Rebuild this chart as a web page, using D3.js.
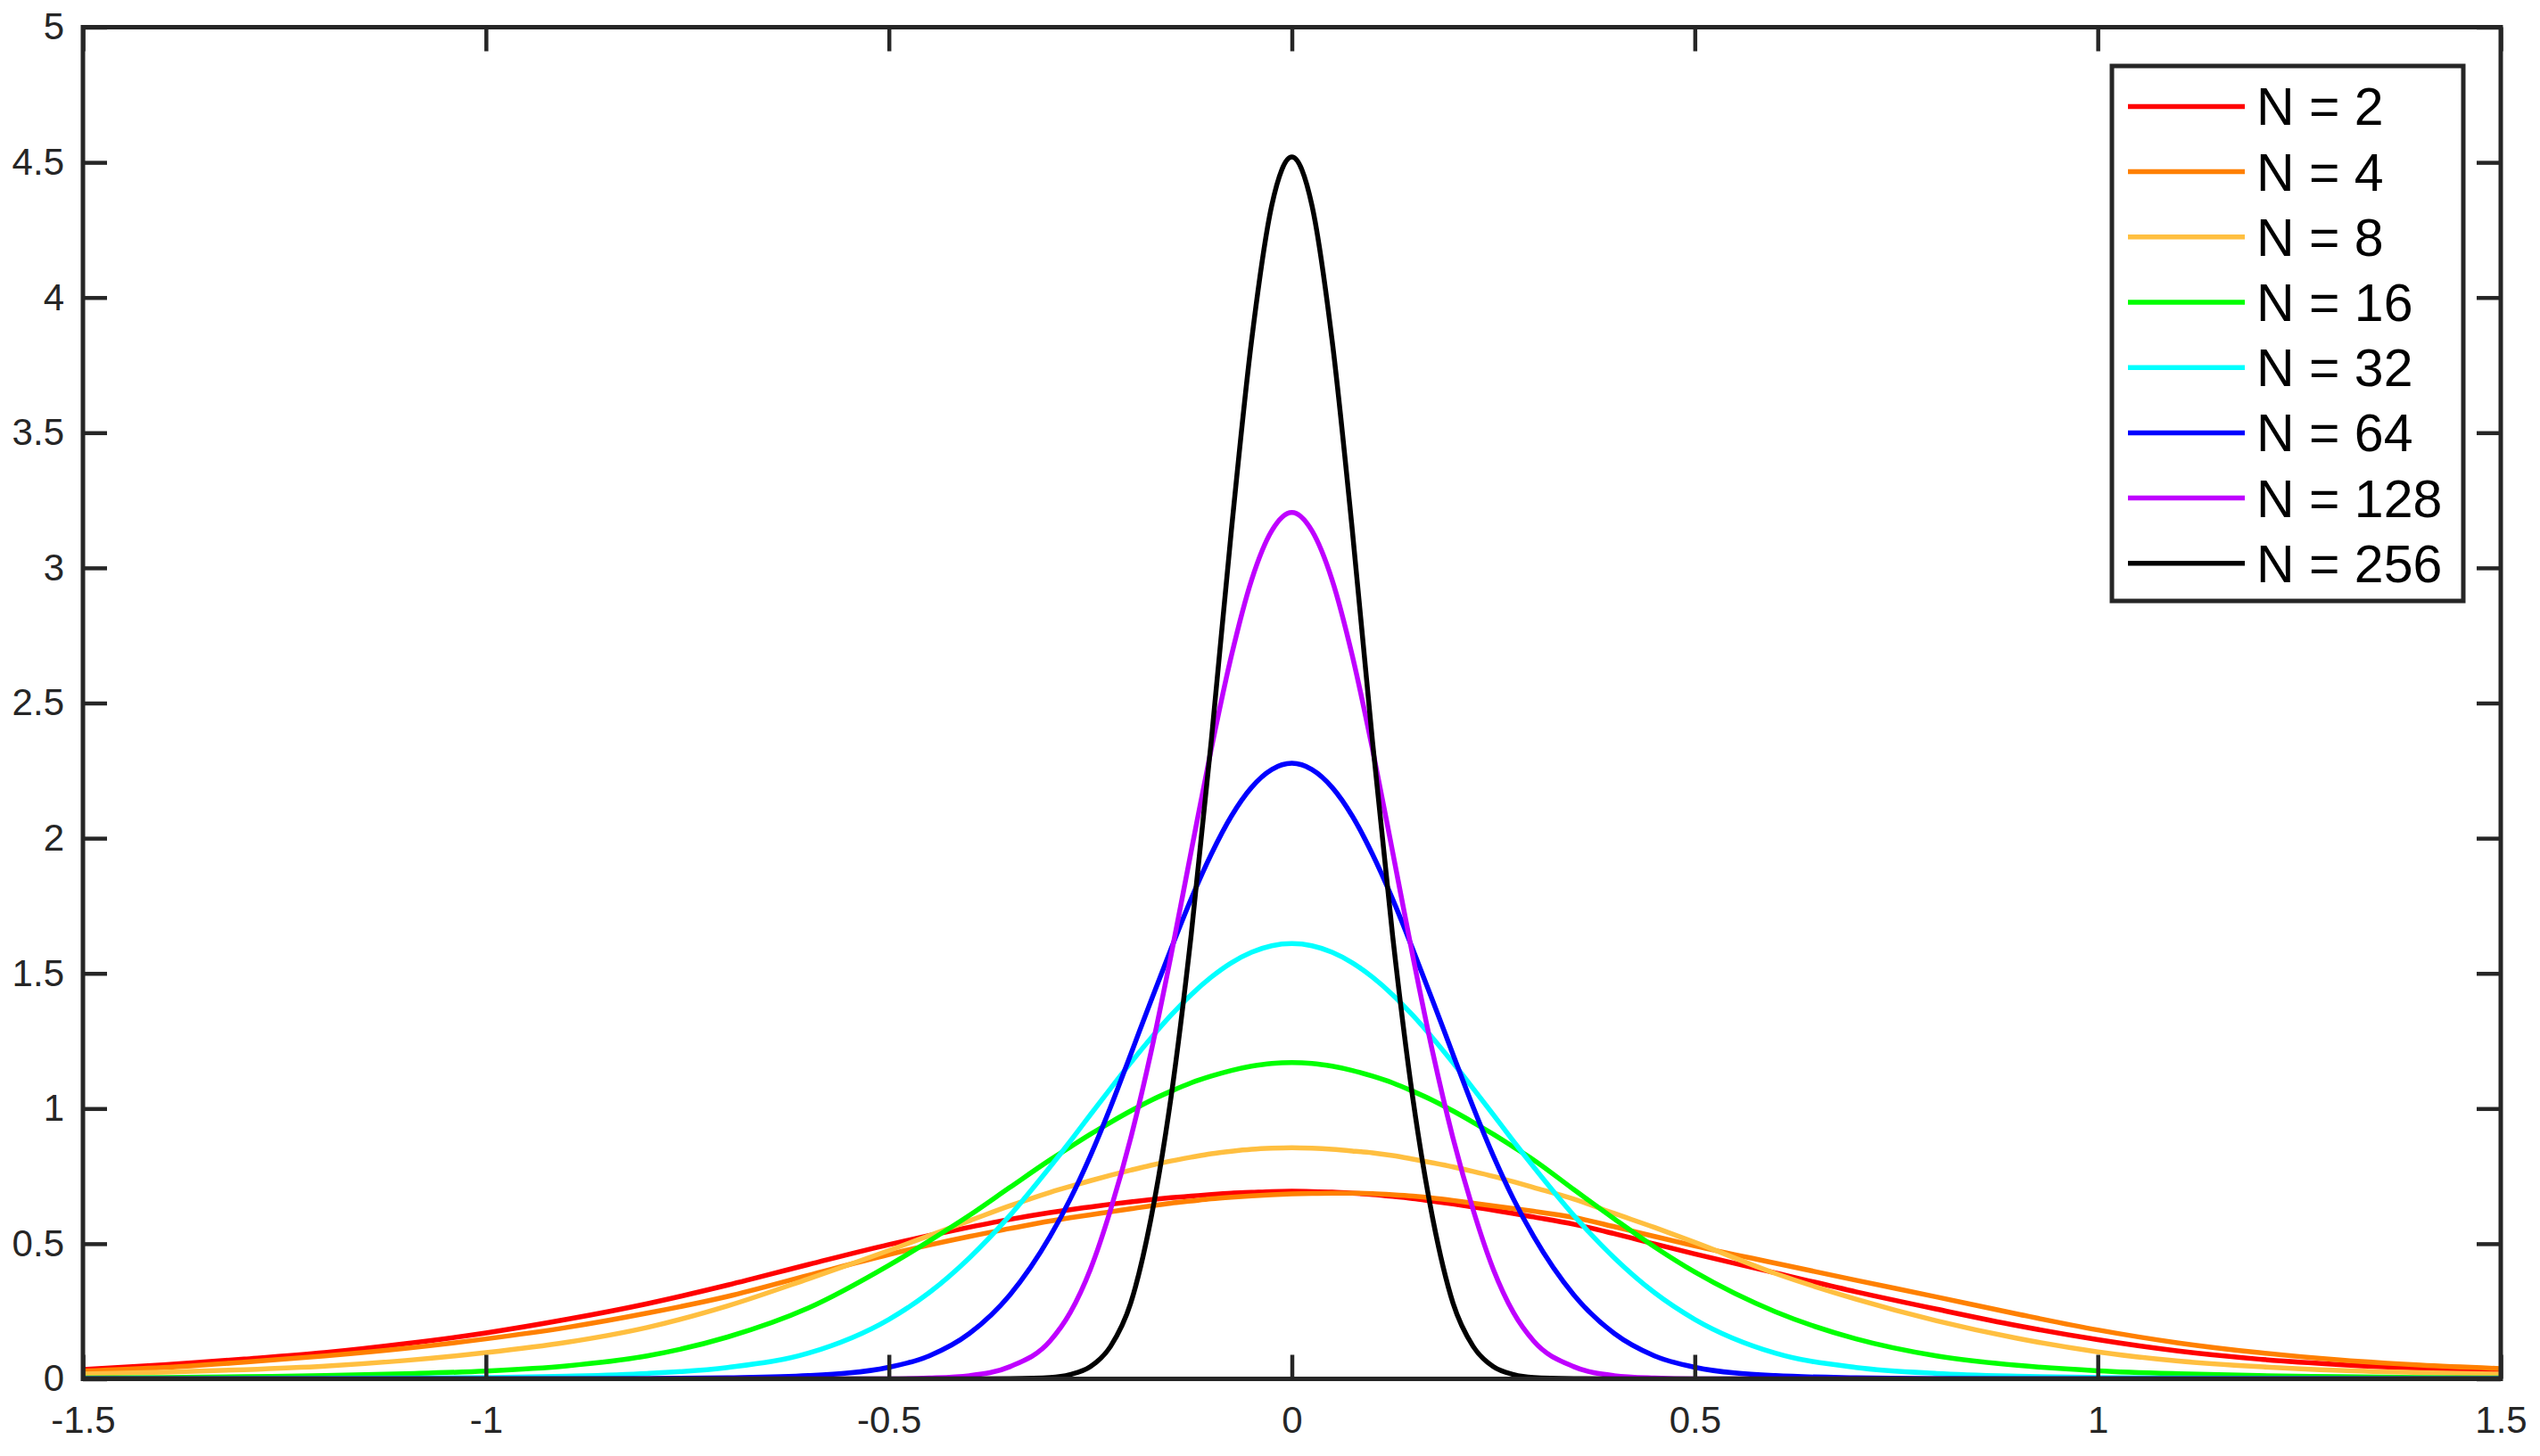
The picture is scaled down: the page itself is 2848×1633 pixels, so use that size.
<!DOCTYPE html>
<html>
<head>
<meta charset="utf-8">
<script src="https://cdn.jsdelivr.net/npm/d3@7"></script>
<style>
  html, body { margin: 0; padding: 0; background: #ffffff; }
  svg { display: block; }
</style>
</head>
<body>
<svg id="chart" width="2848" height="1633"></svg>
<script>
// ---------------- data ----------------
const xs = [-1.5,-1.4,-1.3,-1.2,-1.1,-1.0,-0.9,-0.8,-0.7,-0.6,-0.5,-0.45,-0.4,-0.35,-0.3,-0.275,-0.25,-0.225,-0.2,-0.175,-0.15,-0.125,-0.1,-0.075,-0.05,-0.025,0,0.025,0.05,0.075,0.1,0.125,0.15,0.175,0.2,0.225,0.25,0.275,0.3,0.35,0.4,0.45,0.5,0.6,0.7,0.8,0.9,1.0,1.1,1.2,1.3,1.4,1.5];

const yN2 = [0.035,0.052,0.073,0.097,0.130,0.170,0.220,0.278,0.347,0.423,0.497,0.530,0.561,0.590,0.615,0.626,0.636,0.646,0.655,0.663,0.670,0.676,0.682,0.687,0.690,0.693,0.694,0.693,0.691,0.687,0.682,0.675,0.667,0.657,0.647,0.636,0.624,0.612,0.599,0.572,0.537,0.499,0.462,0.392,0.322,0.258,0.197,0.145,0.103,0.073,0.053,0.039,0.030];
const yN4 = [0.029,0.042,0.062,0.085,0.113,0.148,0.190,0.243,0.305,0.383,0.460,0.495,0.527,0.556,0.584,0.596,0.607,0.618,0.629,0.640,0.650,0.658,0.666,0.672,0.677,0.681,0.684,0.686,0.687,0.687,0.685,0.681,0.676,0.669,0.660,0.650,0.640,0.630,0.620,0.597,0.563,0.527,0.492,0.428,0.365,0.303,0.240,0.181,0.133,0.097,0.070,0.051,0.038];
const yN8 = [0.018,0.025,0.034,0.047,0.068,0.097,0.135,0.190,0.270,0.370,0.475,0.530,0.585,0.640,0.690,0.712,0.733,0.753,0.772,0.790,0.806,0.820,0.833,0.842,0.849,0.853,0.855,0.853,0.849,0.843,0.836,0.826,0.813,0.799,0.784,0.767,0.749,0.729,0.708,0.665,0.612,0.560,0.505,0.390,0.295,0.215,0.150,0.100,0.066,0.045,0.031,0.023,0.018];
const yN16 = [0.003,0.005,0.008,0.012,0.019,0.029,0.048,0.085,0.155,0.262,0.420,0.510,0.605,0.708,0.810,0.858,0.905,0.949,0.991,1.030,1.064,1.095,1.120,1.141,1.157,1.167,1.170,1.167,1.157,1.141,1.120,1.095,1.064,1.030,0.991,0.949,0.905,0.858,0.810,0.700,0.592,0.488,0.395,0.248,0.148,0.085,0.050,0.030,0.019,0.012,0.008,0.005,0.003];
const yN32 = [0,0,0.001,0.002,0.003,0.005,0.010,0.020,0.042,0.095,0.220,0.319,0.448,0.604,0.784,0.879,0.977,1.074,1.169,1.260,1.345,1.421,1.486,1.539,1.578,1.602,1.610,1.602,1.578,1.539,1.486,1.421,1.345,1.260,1.169,1.074,0.977,0.879,0.784,0.604,0.448,0.319,0.220,0.095,0.042,0.020,0.010,0.005,0.003,0.002,0.001,0,0];
const yN64 = [0,0,0,0,0,0,0,0.001,0.004,0.012,0.043,0.085,0.168,0.310,0.527,0.665,0.825,1.005,1.200,1.397,1.590,1.775,1.941,2.082,2.188,2.254,2.277,2.254,2.188,2.082,1.941,1.775,1.590,1.397,1.200,1.005,0.825,0.665,0.527,0.310,0.168,0.085,0.043,0.012,0.004,0.001,0,0,0,0,0,0,0];
const yN128 = [0,0,0,0,0,0,0,0,0,0,0,0.003,0.012,0.045,0.140,0.245,0.405,0.625,0.890,1.205,1.565,1.950,2.330,2.675,2.955,3.137,3.205,3.137,2.955,2.675,2.330,1.950,1.565,1.205,0.890,0.625,0.405,0.245,0.140,0.045,0.012,0.003,0,0,0,0,0,0,0,0,0,0,0];
const yN256 = [0,0,0,0,0,0,0,0,0,0,0,0,0,0.001,0.005,0.016,0.045,0.120,0.280,0.590,1.040,1.640,2.360,3.140,3.840,4.340,4.520,4.340,3.840,3.140,2.360,1.640,1.040,0.590,0.280,0.120,0.045,0.016,0.005,0.001,0,0,0,0,0,0,0,0,0,0,0,0,0];

const seriesNames = ["N = 2","N = 4","N = 8","N = 16","N = 32","N = 64","N = 128","N = 256"];
const seriesValues = [yN2, yN4, yN8, yN16, yN32, yN64, yN128, yN256];
const seriesColors = ["#ff0000","#ff8000","#ffbf40","#00ff00","#00ffff","#0000ff","#bf00ff","#000000"];

const xTickValues = [-1.5,-1,-0.5,0,0.5,1,1.5];
const xTickLabels = ["-1.5","-1","-0.5","0","0.5","1","1.5"];
const yTickValues = [0,0.5,1,1.5,2,2.5,3,3.5,4,4.5,5];
const yTickLabels = ["0","0.5","1","1.5","2","2.5","3","3.5","4","4.5","5"];

// ---------------- layout ----------------
const L = 93, R = 2804, T = 30.5, B = 1546.5;
const axisColor = "#262626";
const tickLen = 27;
const fontFamily = "'Liberation Sans', Arial, Helvetica, sans-serif";

const svg = d3.select("#chart");
svg.append("rect").attr("width", 2848).attr("height", 1633).attr("fill", "#fff");

const x = d3.scaleLinear().domain([-1.5, 1.5]).range([L, R]);
const y = d3.scaleLinear().domain([0, 5]).range([B, T]);

svg.append("defs").append("clipPath").attr("id", "plotclip")
  .append("rect").attr("x", L).attr("y", T).attr("width", R - L).attr("height", B - T);

// curves
const line = d3.line()
  .x(d => x(d[0]))
  .y(d => y(d[1]))
  .curve(d3.curveMonotoneX);

const gLines = svg.append("g").attr("clip-path", "url(#plotclip)");
seriesValues.forEach((vals, i) => {
  const pts = xs.map((xv, j) => [xv, vals[j]]);
  gLines.append("path")
    .datum(pts)
    .attr("d", line)
    .attr("fill", "none")
    .attr("stroke", seriesColors[i])
    .attr("stroke-width", 5.5)
    .attr("stroke-linejoin", "round")
    .attr("stroke-linecap", "round");
});

// axes
function styleAxis(g) {
  g.select(".domain").remove();
  g.selectAll(".tick line").attr("stroke", axisColor).attr("stroke-width", 4.5);
  g.selectAll(".tick text")
    .attr("fill", axisColor)
    .style("font-family", fontFamily)
    .style("font-size", "42px");
}

svg.append("g").attr("transform", `translate(0,${B})`)
  .call(d3.axisBottom(x).tickValues(xTickValues)
    .tickFormat((d, i) => xTickLabels[i]).tickSizeInner(-tickLen).tickSizeOuter(0).tickPadding(31))
  .call(styleAxis);

svg.append("g").attr("transform", `translate(0,${T})`)
  .call(d3.axisTop(x).tickValues(xTickValues).tickFormat("").tickSizeInner(-tickLen).tickSizeOuter(0))
  .call(styleAxis);

svg.append("g").attr("transform", `translate(${L},0)`)
  .call(d3.axisLeft(y).tickValues(yTickValues)
    .tickFormat((d, i) => yTickLabels[i]).tickSizeInner(-tickLen).tickSizeOuter(0).tickPadding(21))
  .call(styleAxis);

svg.append("g").attr("transform", `translate(${R},0)`)
  .call(d3.axisRight(y).tickValues(yTickValues).tickFormat("").tickSizeInner(-tickLen).tickSizeOuter(0))
  .call(styleAxis);

// frame
svg.append("rect")
  .attr("x", L).attr("y", T).attr("width", R - L).attr("height", B - T)
  .attr("fill", "none").attr("stroke", axisColor).attr("stroke-width", 5);

// legend
const legX = 2368, legY = 74, legW = 394, legH = 600;
const rowY0 = 119.4, rowStep = 73.2;
const lg = svg.append("g");
lg.append("rect")
  .attr("x", legX).attr("y", legY).attr("width", legW).attr("height", legH)
  .attr("fill", "#fff").attr("stroke", axisColor).attr("stroke-width", 5);

seriesNames.forEach((name, i) => {
  const ry = rowY0 + i * rowStep;
  lg.append("line")
    .attr("x1", 2386).attr("x2", 2517).attr("y1", ry).attr("y2", ry)
    .attr("stroke", seriesColors[i]).attr("stroke-width", 5.5);
  lg.append("text")
    .attr("x", 2530).attr("y", ry + 21)
    .attr("fill", "#000")
    .style("font-family", fontFamily)
    .style("font-size", "59px")
    .text(name);
});
</script>
</body>
</html>
